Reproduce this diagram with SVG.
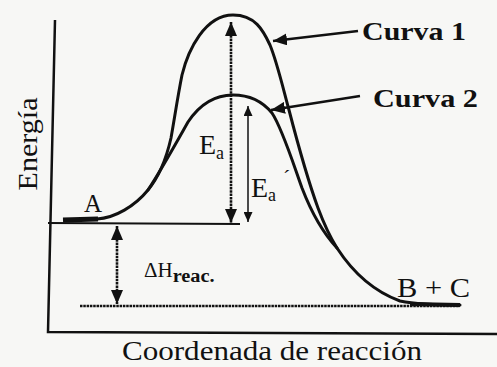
<svg xmlns="http://www.w3.org/2000/svg" width="497" height="367" viewBox="0 0 497 367">
<style>
.ink{stroke:#111;fill:none}
.curve{stroke:#111;fill:none;stroke-width:3;stroke-linecap:round}
.dot{stroke:#111;stroke-width:2.6;stroke-dasharray:2.5 0.8;fill:none}
.t{fill:#111}
.b{font-weight:bold}
</style>
<defs>
<marker id="hb" markerUnits="userSpaceOnUse" markerWidth="15" markerHeight="12" refX="14" refY="6" orient="auto-start-reverse"><path d="M0,0 L14,6 L0,12 z" fill="#111"/></marker>
<marker id="hs" markerUnits="userSpaceOnUse" markerWidth="11" markerHeight="9" refX="10" refY="4.5" orient="auto-start-reverse"><path d="M0,0 L10,4.5 L0,9 z" fill="#111"/></marker>
</defs>
<rect width="497" height="367" fill="#f7f7f5"/>
<g id="axes">
<path class="ink" stroke-width="2.5" d="M55,20 L48,332 L497,334"/>
<path class="ink" stroke-width="2" d="M48,223 L240,224"/>
<path class="dot" d="M80,306 L460,306"/>
</g>
<g id="curves">
<path class="curve" d="M97,219 C115,218 135,206 148,190 C158,178 166,160 171,138 C175,115 178,95 182,75 C188,50 205,15 233,15 C255,15 263,30 270,45 C277,62 283,88 289,110 C296,137 306,175 318,208 C324,224 330,237 337,248 C350,268 370,290 400,301 C420,305 440,305 460,305"/>
<path class="curve" d="M148,190 C160,172 175,145 188,122 C200,104 215,95 233,95 C250,95 263,102 272,113 C282,128 292,160 302,188 C312,214 324,234 337,248"/>
<path class="ink" stroke-width="5" d="M63,220 L98,219"/>
<path class="ink" stroke-width="4" d="M410,304 L460,305"/>
</g>
<g id="connectors">
<line class="dot" x1="231" y1="22" x2="231" y2="223" marker-start="url(#hb)" marker-end="url(#hb)"/>
<line class="ink" stroke-width="1.5" x1="248" y1="106" x2="248" y2="222" marker-start="url(#hs)" marker-end="url(#hs)"/>
<line class="dot" x1="117" y1="226" x2="117" y2="304" marker-start="url(#hb)" marker-end="url(#hb)"/>
<line class="ink" stroke-width="2.5" x1="358" y1="31" x2="273" y2="41" marker-end="url(#hb)"/>
<line class="ink" stroke-width="2.5" x1="360" y1="96" x2="271" y2="110" marker-end="url(#hb)"/>
</g>
<g id="labels" font-family="'Liberation Serif', 'DejaVu Serif', serif">
<text class="t b" x="362" y="40" font-size="26" textLength="104" lengthAdjust="spacingAndGlyphs">Curva 1</text>
<text class="t b" x="373" y="107" font-size="26" textLength="105" lengthAdjust="spacingAndGlyphs">Curva 2</text>
<text class="t" x="199" y="154" font-size="28">E<tspan font-size="18" dy="5">a</tspan></text>
<text class="t" x="251" y="197" font-size="28">E<tspan font-size="18" dy="4">a</tspan><tspan dx="7" dy="-16" font-size="22">´</tspan></text>
<text class="t" x="84" y="212" font-size="25">A</text>
<text class="t" x="397" y="297" font-size="28" textLength="73" lengthAdjust="spacingAndGlyphs">B + C</text>
<text class="t" x="144" y="277" font-size="21">ΔH<tspan class="b" font-size="18" dy="5" textLength="42" lengthAdjust="spacingAndGlyphs">reac.</tspan></text>
<text class="t" transform="translate(37,144) rotate(-90)" text-anchor="middle" font-size="28" textLength="93" lengthAdjust="spacingAndGlyphs">Energía</text>
<text class="t" x="122" y="360" font-size="28" textLength="300" lengthAdjust="spacingAndGlyphs">Coordenada de reacción</text>
</g>
</svg>
